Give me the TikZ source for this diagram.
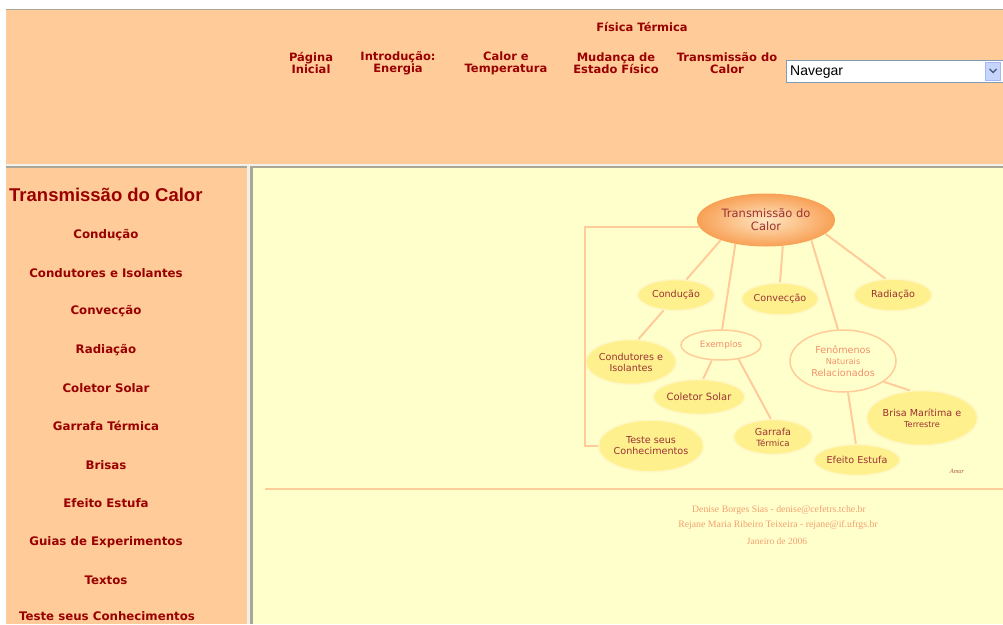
\documentclass[tikz,border=0pt]{standalone}
\usepackage{fontspec}
\setmainfont{DejaVu Sans}
\newfontfamily\navfont{DejaVu Sans}
\newfontfamily\titlefont{Liberation Sans}
\newfontfamily\selfont{Liberation Sans}
\newfontfamily\footfont{Liberation Serif}
\usetikzlibrary{shapes.geometric}
\definecolor{peach}{HTML}{FFCC99}
\definecolor{paleyel}{HTML}{FFFFCC}
\definecolor{navred}{HTML}{990000}
\definecolor{mapred}{HTML}{993333}
\definecolor{salmon}{HTML}{F4906A}
\definecolor{foot}{HTML}{F5A070}
\definecolor{ellfill}{HTML}{FFF08E}
\definecolor{ellrim}{HTML}{FFF8C4}
\definecolor{framegray}{HTML}{A8A898}
\definecolor{framelight}{HTML}{F2F0E8}
\definecolor{selborder}{HTML}{7F9DB9}
\definecolor{btnfill}{HTML}{C5D5FC}
\definecolor{btnchev}{HTML}{4D6185}
\definecolor{linkline}{HTML}{FFCC99}
\definecolor{sigcol}{HTML}{B06040}
\definecolor{cin}{HTML}{FFE6C2}
\definecolor{cout}{HTML}{F8A055}
\tikzset{
  navitem/.style={text=navred, align=center, inner sep=0pt,
    font={\navfont\bfseries\fontsize{11.5}{12}\selectfont}},
  sideitem/.style={text=navred, inner sep=0pt,
    font={\navfont\bfseries\fontsize{11.8}{12}\selectfont}},
  bub/.style={ellipse, fill=ellfill, draw=ellrim, line width=1.5pt, inner sep=0pt,
    align=center, text=mapred, font={\fontsize{9.6}{11}\selectfont}},
  hollow/.style={ellipse, fill=paleyel, draw=linkline, line width=1.5pt, inner sep=0pt,
    align=center, text=salmon, font={\fontsize{9.6}{11.5}\selectfont}},
  conn/.style={draw=linkline, line width=2pt},
  footline/.style={text=foot, inner sep=0pt, font={\footfont\fontsize{9.8}{11}\selectfont}}
}
\begin{document}
\begin{tikzpicture}[x=1pt,y=-1pt]
\useasboundingbox (0,0) rectangle (1003,624);
\fill[white] (0,0) rectangle (1003,624);
% top frame
\fill[peach] (6,9) rectangle (1003,164);
\fill[framegray] (6,9) rectangle (1003,10);
\fill[framelight] (6,164) rectangle (1003,166);
\fill[framegray] (6,166) rectangle (1003,168);
% left frame
\fill[peach] (6,168) rectangle (247,624);
\fill[framelight] (247,166) rectangle (250,624);
\fill[framegray] (250,166) rectangle (253,624);
% right frame
\fill[paleyel] (253,168) rectangle (1003,624);

% top navigation
\node[navitem] (ftitle) at (642,27) {Física Térmica};
\node[navitem] (nav1) at (311,63) {Página\\Inicial};
\node[navitem] (nav2) at (398,63) {Introdução:\\Energia};
\node[navitem] (nav3) at (506,63) {Calor e\\Temperatura};
\node[navitem] (nav4) at (616,63) {Mudança de\\Estado Físico};
\node[navitem] (nav5) at (727,63) {Transmissão do\\Calor};
\node[draw=selborder, fill=white, minimum width=218pt, minimum height=22pt, inner sep=0pt, anchor=north west] (sel) at (786,60) {};
\node[anchor=west, inner sep=0pt, font={\selfont\fontsize{14}{16}\selectfont}] (seltext) at (790,72) {Navegar};
\node[fill=btnfill, draw=btnfill!85!blue, minimum width=15pt, minimum height=18pt, inner sep=0pt] (selbtn) at (993,71) {};
\draw[btnchev, line width=1.4pt] (989.5,69) -- (993,72.5) -- (996.5,69);

% left menu
\node[anchor=west, text=navred, inner sep=0pt, font={\titlefont\bfseries\fontsize{18.5}{20}\selectfont}] (ltitle) at (9,195) {Transmissão do Calor};
\node[sideitem] (m1) at (106,235) {Condução};
\node[sideitem] (m2) at (106,273) {Condutores e Isolantes};
\node[sideitem] (m3) at (106,311) {Convecção};
\node[sideitem] (m4) at (106,350) {Radiação};
\node[sideitem] (m5) at (106,388) {Coletor Solar};
\node[sideitem] (m6) at (106,426) {Garrafa Térmica};
\node[sideitem] (m7) at (106,465) {Brisas};
\node[sideitem] (m8) at (106,503) {Efeito Estufa};
\node[sideitem] (m9) at (106,542) {Guias de Experimentos};
\node[sideitem] (m10) at (106,580) {Textos};
\node[sideitem] (m11) at (107,616) {Teste seus Conhecimentos};

% mind map
\node[ellipse, inner sep=0pt, minimum width=138pt, minimum height=53pt, inner color=cin, outer color=cout, align=center, text=mapred, font={\fontsize{11.5}{13}\selectfont}] (c) at (766,220) {Transmissão do\\Calor};
\node[bub, minimum width=77pt, minimum height=31pt] (cond) at (676,295) {Condução};
\node[bub, minimum width=77pt, minimum height=32pt] (conv) at (780,299) {Convecção};
\node[bub, minimum width=78pt, minimum height=32pt] (rad) at (893,295) {Radiação};
\node[bub, minimum width=82pt, minimum height=45pt] (condis) at (631,362) {Condutores e\\Isolantes};
\node[hollow, minimum width=80pt, minimum height=30pt, font={\fontsize{8.8}{10}\selectfont}] (exem) at (721,345) {Exemplos};
\node[hollow, minimum width=106pt, minimum height=62pt] (fen) at (843,361) {Fenômenos\\{\fontsize{8.2}{10}\selectfont Naturais}\\Relacionados};
\node[bub, minimum width=86pt, minimum height=35pt, font={\fontsize{10}{11}\selectfont}] (colet) at (699,397) {Coletor Solar};
\node[bub, minimum width=105pt, minimum height=55pt] (brisa) at (922,418) {Brisa Marítima e\\{\fontsize{8.2}{10}\selectfont Terrestre}};
\node[bub, minimum width=79pt, minimum height=35pt] (garr) at (773,437) {Garrafa\\{\fontsize{8.6}{10}\selectfont Térmica}};
\node[bub, minimum width=98pt, minimum height=52pt] (teste) at (651,446) {Teste seus\\Conhecimentos};
\node[bub, minimum width=80pt, minimum height=31pt] (efeito) at (857,460) {Efeito Estufa};
\node[inner sep=0pt, text=sigcol, font={\footfont\itshape\fontsize{6.5}{7}\selectfont}] (sig) at (957,471) {Amar};

\coordinate (brk) at (585,300);
\draw[conn] (c.204) -- (cond.56);
\draw[conn] (c.218) -- (exem.86);
\draw[conn] (c.303) -- (conv.90);
\draw[conn] (c.336) -- (fen.99);
\draw[conn] (c.347) -- (rad.115);
\draw[conn] (cond.231) -- (condis.72);
\draw[conn] (exem.239) -- (colet.77);
\draw[conn] (exem.321) -- (garr.97);
\draw[conn] (fen.333) -- (brisa.114);
\draw[conn] (fen.279) -- (efeito.94);
\draw[conn] (c.186) -| (brk) |- (teste);

% footer
\draw[peach, line width=2pt] (265,489) -- (1003,489);
\node[footline] (f1) at (779,510) {Denise Borges Sias - denise@cefetrs.tche.br};
\node[footline] (f2) at (778,525) {Rejane Maria Ribeiro Teixeira - rejane@if.ufrgs.br};
\node[footline, font={\footfont\fontsize{9.5}{10}\selectfont}] (f3) at (777,541) {Janeiro de 2006};
\end{tikzpicture}
\end{document}
